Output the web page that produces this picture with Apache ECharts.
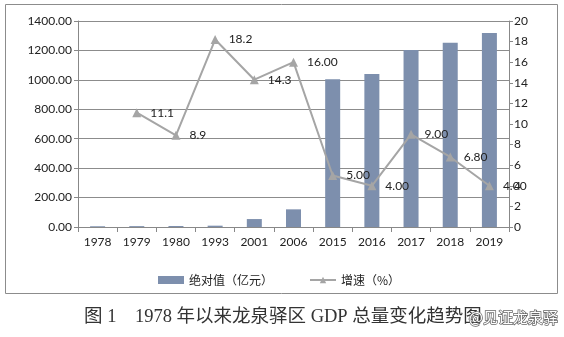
<!DOCTYPE html>
<html><head><meta charset="utf-8">
<script src="https://cdn.jsdelivr.net/npm/echarts@6/dist/echarts.min.js"></script>
<style>html,body{margin:0;padding:0;background:#fff}#c{width:564px;height:337px}</style>
</head><body><div id="c"></div>
<script>
var categories = ['1978','1979','1980','1993','2001','2006','2015','2016','2017','2018','2019'];
var gdpValues = [5, 6, 7, 9, 54, 120, 1004, 1040, 1203, 1253, 1318];
var growthValues = [null, 11.1, 8.9, 18.2, 14.3, 16.0, 5.0, 4.0, 9.0, 6.8, 4.0];
var growthLabels = ['', '11.1', '8.9', '18.2', '14.3', '16.00', '5.00', '4.00', '9.00', '6.80', '4.00'];
var leftTicks = {min: 0, max: 1400, interval: 200};
var rightTicks = {min: 0, max: 20, interval: 2};
var seriesNames = ['绝对值（亿元）', '增速（%）'];
var titleText = '图 1　1978 年以来龙泉驿区 GDP 总量变化趋势图';
var watermark = '@见证龙泉驿';

var chart = echarts.init(document.getElementById('c'), null, {renderer: 'canvas'});
var axisFont = {fontFamily: 'Lato', fontSize: 12, color: '#222'};
chart.setOption({
  animation: false,
  backgroundColor: '#fff',
  grid: {left: 78, right: 55, top: 21, height: 206, containLabel: false},
  legend: {
    left: 153, top: 269, itemGap: 36, itemWidth: 26, itemHeight: 8,
    textStyle: {fontFamily: 'Noto Sans CJK SC', fontSize: 12, color: '#222'},
    data: [
      {name: seriesNames[0], icon: 'rect'},
      {name: seriesNames[1]}
    ]
  },
  xAxis: {
    type: 'category', data: categories,
    axisLine: {lineStyle: {color: '#888', width: 1}},
    axisTick: {show: true, interval: 0, length: 5, lineStyle: {color: '#888'}},
    axisLabel: Object.assign({margin: 9, interval: 0}, axisFont),
    splitLine: {show: false}
  },
  yAxis: [
    {
      type: 'value', min: leftTicks.min, max: leftTicks.max, interval: leftTicks.interval,
      axisLine: {show: true, lineStyle: {color: '#888'}},
      axisTick: {show: true, length: 4, lineStyle: {color: '#888'}},
      axisLabel: Object.assign({margin: 6, formatter: function(v){return v.toFixed(2);}}, axisFont),
      splitLine: {show: true, lineStyle: {color: '#8c8c8c', width: 1}}
    },
    {
      type: 'value', min: rightTicks.min, max: rightTicks.max, interval: rightTicks.interval,
      position: 'right',
      axisLine: {show: true, lineStyle: {color: '#888'}},
      axisTick: {show: true, length: 4, lineStyle: {color: '#888'}},
      axisLabel: Object.assign({margin: 5}, axisFont),
      splitLine: {show: false}
    }
  ],
  series: [
    {
      name: seriesNames[0], type: 'bar', yAxisIndex: 0, data: gdpValues,
      barWidth: 15, itemStyle: {color: '#7d8fad'}, z: 2
    },
    {
      name: seriesNames[1], type: 'line', yAxisIndex: 1, data: growthValues,
      symbol: 'triangle', symbolSize: 9, connectNulls: false,
      lineStyle: {color: '#a5a5a5', width: 2},
      itemStyle: {color: '#a5a5a5'},
      label: {
        show: true, position: 'right', distance: 9,
        fontFamily: 'Lato', fontSize: 12, color: '#222',
        formatter: function(p){return growthLabels[p.dataIndex];}
      },
      z: 3
    }
  ],
  graphic: [
    {type: 'rect', shape: {x: 5.5, y: 4.5, width: 552, height: 289},
     style: {fill: null, stroke: '#8c8c8c', lineWidth: 1}, z: -1, silent: true},
    {type: 'text', left: 84, top: 308,
     style: {text: titleText, font: '18.5px "Liberation Serif", "Noto Sans CJK SC", serif', fill: '#333'}},
    {type: 'text', left: 468, top: 309, z: 100,
     style: {text: watermark, font: '15px "Noto Sans CJK SC"', fill: '#fff', stroke: '#666', lineWidth: 1.5}}
  ]
});
</script></body></html>
